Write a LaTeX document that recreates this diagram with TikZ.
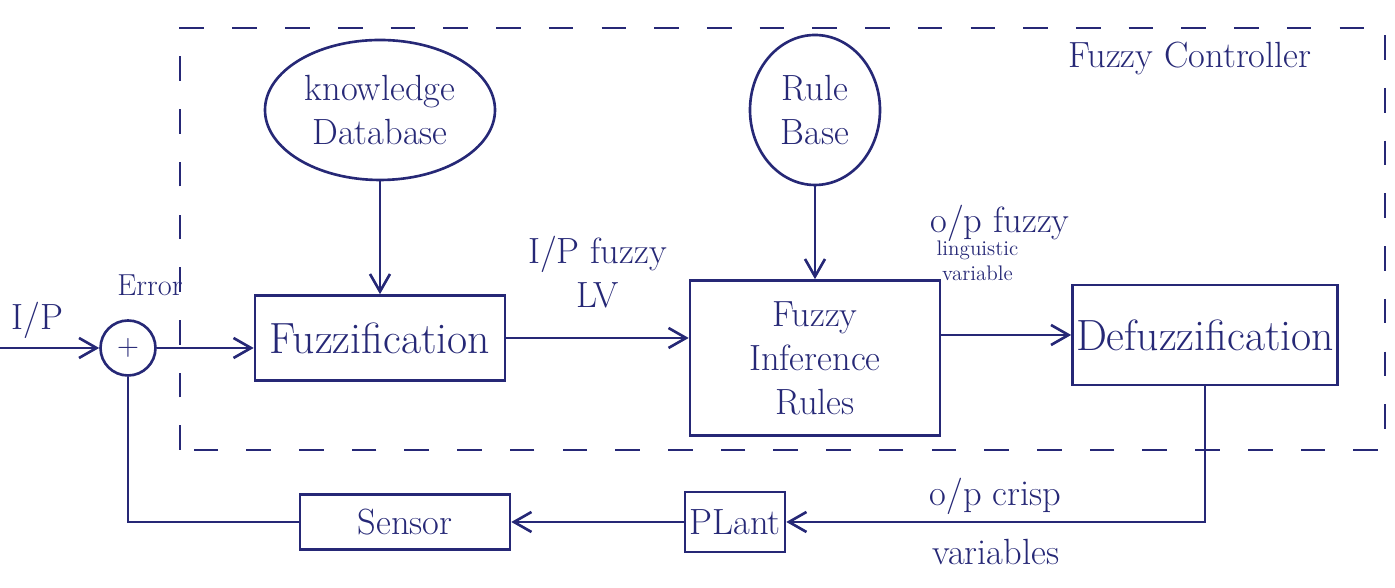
\documentclass[tikz,border=0pt]{standalone}
\usepackage{amsmath,amssymb}
\usepackage{tikz}
\usetikzlibrary{shapes.geometric, arrows.meta, positioning, calc}

\definecolor{ink}{RGB}{38,40,118}

\begin{document}
\begin{tikzpicture}[
    ink, line width=1.5pt,
    box/.style={rectangle, draw, inner sep=2pt, text centered, font=\Huge},
    blob/.style={ellipse, draw, align=center, font=\huge, inner sep=1pt},
    arrow/.style={-{Straight Barb[length=3.5mm, width=4mm]}},
    lbl/.style={font=\huge, align=center},
    frame/.style={dashed, line width=1pt, dash pattern=on 14pt off 16pt}
]
    \useasboundingbox (0,0) rectangle (27.9,11.76);

    \node[circle, draw, minimum size=1.1cm, inner sep=0pt, font=\LARGE] (sum) at (2.56,4.8) {$+$};
    \coordinate (in) at (0,4.8);
    \node[box, minimum width=5cm, minimum height=1.7cm] (fuzz) at (7.6,5.0) {Fuzzification};
    \node[blob, minimum width=4.6cm, minimum height=2.8cm] (know) at (7.6,9.56) {knowledge\\Database};
    \node[blob, minimum width=2.6cm, minimum height=3.0cm] (rule) at (16.3,9.56) {Rule\\Base};
    \node[box, align=center, font=\huge, minimum width=5cm, minimum height=3.1cm] (infer) at (16.3,4.6) {Fuzzy\\Inference\\Rules};
    \node[box, minimum width=5.2cm, minimum height=2cm] (defuzz) at (24.1,5.06) {Defuzzification};
    \node[box, font=\huge, minimum width=2cm, minimum height=1.2cm] (plant) at (14.7,1.32) {PLant};
    \node[box, font=\huge, minimum width=4.2cm, minimum height=1.1cm] (sensor) at (8.1,1.32) {Sensor};

    \draw[frame] (3.6,2.76) rectangle (27.7,11.2);
    \node[lbl] (ctrl) at (23.8,10.6) {Fuzzy Controller};

    \node[lbl] (ip) at (0.75,5.35) {I/P};
    \node[font=\LARGE] (err) at (3.0,6.05) {Error};

    \draw[arrow] (in) -- (sum);
    \draw[arrow] (sum) -- (sum -| fuzz.west);
    \draw[arrow] (know) -- (fuzz);
    \draw[arrow] (fuzz) -- (fuzz -| infer.west)
        node[midway, above=0.45cm, lbl] {I/P fuzzy\\LV};
    \draw[arrow] (rule) -- (infer);
    \draw[arrow] (infer.east |- defuzz.west) -- (defuzz.west);
    \node[lbl] (opfuzzy) at (20.0,7.3) {o/p fuzzy};
    \node[font=\large, align=center] (ling) at (19.55,6.55) {linguistic\\variable};
    \draw[arrow] (defuzz.south) |- (plant.east)
        node[pos=0.75, above, lbl] {o/p crisp}
        node[pos=0.75, below=0.2cm, lbl] {variables};
    \draw[arrow] (plant) -- (sensor);
    \draw (sensor.west) -| (sum.south);
\end{tikzpicture}
\end{document}
